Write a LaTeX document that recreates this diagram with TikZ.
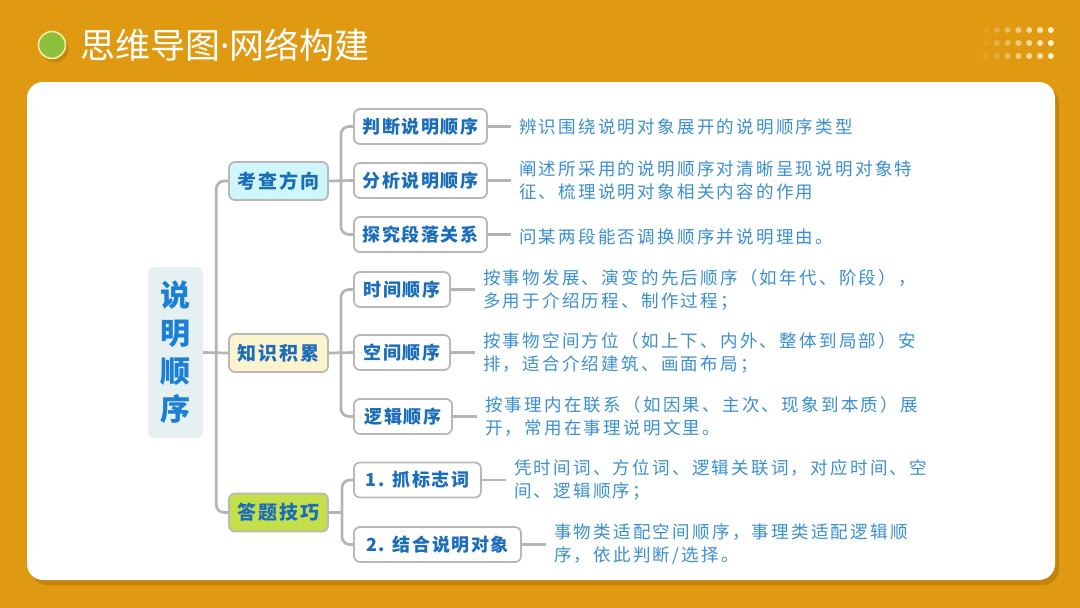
\documentclass[tikz,border=0pt]{standalone}
\usepackage{fontspec}
\setmainfont{Noto Sans CJK SC}
\newfontfamily\descfont[LetterSpace=13]{Noto Sans CJK SC}
\newfontfamily\labfont[LetterSpace=9]{Noto Sans CJK SC}
\newfontfamily\latinf{Noto Sans}
\usetikzlibrary{calc}
\definecolor{bgc}{HTML}{E09A12}
\definecolor{shc}{HTML}{A86E08}
\definecolor{linec}{HTML}{B4B4B4}
\definecolor{boxc}{HTML}{B8B8B8}
\definecolor{labc}{HTML}{1A6DBA}
\definecolor{rootc}{HTML}{1A80D6}
\definecolor{descc}{HTML}{3A8FD2}
\definecolor{rootfill}{HTML}{E6F0F3}
\definecolor{kcfill}{HTML}{CFF6FB}
\definecolor{zsfill}{HTML}{FDF3CC}
\definecolor{dafill}{HTML}{C3E04A}
\definecolor{greenc}{HTML}{8DC03A}
\definecolor{palec}{HTML}{F8F2A8}
\definecolor{dotc}{HTML}{FFF4D6}
\begin{document}
\begin{tikzpicture}[x=1pt,y=-1pt,
  conn/.style={draw=linec, line width=2.7pt, rounded corners=8pt},
  box/.style={draw=boxc, line width=1.8pt, rounded corners=6pt, fill=white, inner sep=0pt,
    minimum height=35pt, text=labc, font=\labfont\fontsize{18}{22}\selectfont\bfseries},
  lvone/.style={box, minimum width=99pt, minimum height=38pt, font=\labfont\fontsize{19}{22}\selectfont\bfseries},
  desc/.style={anchor=west, inner xsep=8pt, inner ysep=0pt, align=left, text=descc,
    font=\descfont\fontsize{17.5}{23}\selectfont},
  rootbox/.style={fill=rootfill, rounded corners=6pt, minimum width=55pt, minimum height=171pt,
    align=center, text=rootc, inner sep=0pt, font=\fontsize{30}{38}\selectfont\bfseries}
]
\useasboundingbox (0,0) rectangle (1080,608);
\fill[bgc] (0,0) rectangle (1080,608);
% header
\fill[shc, opacity=.45] (55,49) circle (13.5pt);
\node[circle, fill=greenc, draw=palec, line width=1.5pt, minimum size=27pt, inner sep=0pt] (hdot) at (52,45) {};
\node[anchor=west, inner sep=0pt, text=white, font=\fontsize{35}{38}\selectfont] (title) at (80,45) {思维导图{\latinf·}网络构建};
\foreach \r in {30,43,56}{
  \foreach \i in {0,...,6}{
    \fill[dotc, opacity={0.08+\i*0.15}] ({986+\i*10.8},\r) circle (3pt);
  }
}
% panel
\fill[shc, opacity=.5, rounded corners=16pt] (31,87) rectangle (1059,585);
\fill[white, rounded corners=16pt] (27,82) rectangle (1055,580);
% root
\node[rootbox] (root) at (175.5,352.5) {说\\明\\顺\\序};
% level 1
\node[lvone, fill=kcfill] (kc) at (278.5,181) {考查方向};
\node[lvone, fill=zsfill] (zs) at (278.5,353) {知识积累};
\node[lvone, fill=dafill] (da) at (278.5,512.5) {答题技巧};
% level 2
\node[box, minimum width=133pt] (c1) at (420.5,126.5) {判断说明顺序};
\node[box, minimum width=133pt] (c2) at (420.5,180.5) {分析说明顺序};
\node[box, minimum width=133pt] (c3) at (420.5,234.5) {探究段落关系};
\node[box, minimum width=96pt] (z1) at (402,289.5) {时间顺序};
\node[box, minimum width=96pt] (z2) at (402,352.5) {空间顺序};
\node[box, minimum width=98pt] (z3) at (403,416.5) {逻辑顺序};
\node[box, minimum width=127pt] (d1) at (417.5,480) {1.\hspace{8pt}抓标志词};
\node[box, minimum width=167pt] (d2) at (437.5,544.5) {2.\hspace{8pt}结合说明对象};
% descriptions
\node[desc] (e1) at ($(c1.east)+(23,0)$) {辨识围绕说明对象展开的说明顺序类型};
\node[desc] (e2) at ($(c2.east)+(23,0)$) {阐述所采用的说明顺序对清晰呈现说明对象特\\征、梳理说明对象相关内容的作用};
\node[desc] (e3) at ($(c3.east)+(23,2)$) {问某两段能否调换顺序并说明理由。};
\node[desc] (f1) at ($(z1.east)+(24,0)$) {按事物发展、演变的先后顺序（如年代、阶段），\\多用于介绍历程、制作过程；};
\node[desc] (f2) at ($(z2.east)+(24,0)$) {按事物空间方位（如上下、内外、整体到局部）安\\排，适合介绍建筑、画面布局；};
\node[desc] (f3) at ($(z3.east)+(24,0)$) {按事理内在联系（如因果、主次、现象到本质）展\\开，常用在事理说明文里。};
\node[desc] (g1) at ($(d1.east)+(24,0)$) {凭时间词、方位词、逻辑关联词，对应时间、空\\间、逻辑顺序；};
\node[desc] (g2) at ($(d2.east)+(24,0)$) {事物类适配空间顺序，事理类适配逻辑顺\\序，依此判断/选择。};
% connectors
\coordinate (t0) at ($(root.east)+(13,0)$);
\draw[conn] (kc.west) -| (t0) |- (da.west);
\draw[conn] (root.east) -- (zs.west);
\coordinate (t1) at ($(kc.east)+(12,0)$);
\draw[conn] (c1.west) -| (t1) |- (c3.west);
\draw[conn] (kc.east) -- (c2.west);
\coordinate (t2) at ($(zs.east)+(12,0)$);
\draw[conn] (z1.west) -| (t2) |- (z3.west);
\draw[conn] (zs.east) -- (z2.west);
\coordinate (t3) at ($(da.east)+(13,0)$);
\draw[conn] (d1.west) -| (t3) |- (d2.west);
\draw[conn] (da.east) -- (t3);
\draw[conn] (c1.east) -- (e1.west);
\draw[conn] (c2.east) -- (e2.west);
\draw[conn] (c3.east) -- (c3.east -| e3.west);
\draw[conn] (z1.east) -- (f1.west);
\draw[conn] (z2.east) -- (f2.west);
\draw[conn] (z3.east) -- (f3.west);
\draw[conn] (d1.east) -- (g1.west);
\draw[conn] (d2.east) -- (g2.west);
\end{tikzpicture}
\end{document}
